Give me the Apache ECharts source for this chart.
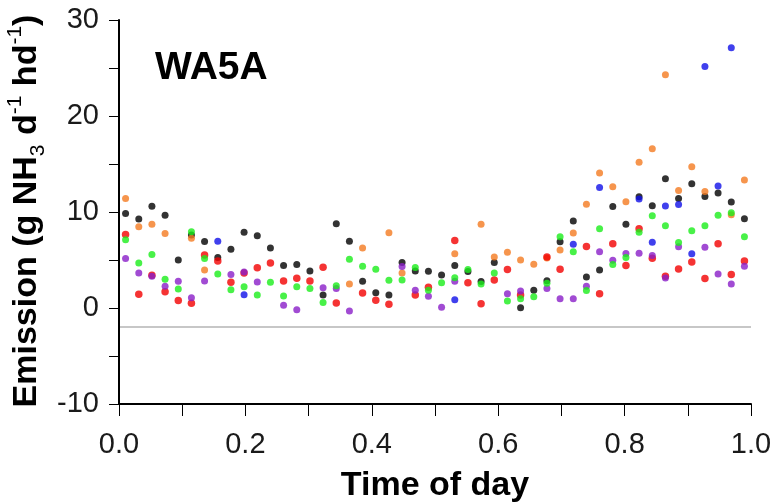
<!DOCTYPE html>
<html>
<head>
<meta charset="utf-8">
<style>
  html, body { margin: 0; padding: 0; background: #fff; }
  #chart { width: 773px; height: 504px; }
</style>
<script src="https://cdn.jsdelivr.net/npm/echarts@6/dist/echarts.min.js"></script>
</head>
<body>
<div id="chart"></div>
<script>
// Half-hour slot midpoints (fraction of day)
const slotTimes = [
  0.0104, 0.0313, 0.0521, 0.0729, 0.0938, 0.1146, 0.1354, 0.1563, 0.1771, 0.1979, 0.2188, 0.2396,
  0.2604, 0.2813, 0.3021, 0.3229, 0.3438, 0.3646, 0.3854, 0.4063, 0.4271, 0.4479, 0.4688, 0.4896,
  0.5104, 0.5313, 0.5521, 0.5729, 0.5938, 0.6146, 0.6354, 0.6563, 0.6771, 0.6979, 0.7188, 0.7396,
  0.7604, 0.7813, 0.8021, 0.8229, 0.8438, 0.8646, 0.8854, 0.9063, 0.9271, 0.9479, 0.9688, 0.9896
];

// Emission per slot for each measurement day (null = no value)
const dayBlack = [
  9.85, 9.26, 10.6, 9.67, 5.0, 7.6, 6.92, 5.25, 6.12, 7.9, 7.52, 6.26,
  4.42, 4.52, 3.86, 1.36, 8.77, 6.96, 2.78, 1.6, 1.36, 4.73, 3.86, 3.83,
  3.44, 4.42, 3.79, 2.75, 4.73, null, 0.03, 1.85, 2.85, 6.89, 9.05, 3.24,
  3.97, 10.58, 8.73, 11.59, 10.65, 13.47, 11.41, 12.94, 11.62, 11.97, 11.03, 9.29
];
const dayOrange = [
  11.4, 8.46, 8.73, 7.76, null, 7.27, 3.97, null, null, null, null, null,
  null, null, null, null, null, 2.5, 6.26, null, 7.83, 3.65, null, null,
  null, 5.64, null, 8.73, 5.32, 5.81, 5.0, 4.56, 5.2, 6.05, 7.8, 10.82,
  14.06, 12.63, 11.06, 15.17, 16.6, 24.29, 12.25, 14.72, 12.14, null, 9.71, 13.33
];
const dayBlue = [
  null, null, null, null, null, null, null, 6.96, null, 1.39, null, null,
  null, null, null, null, null, null, null, null, null, null, null, null,
  null, 0.87, null, null, null, null, null, null, null, null, 6.65, null,
  12.56, null, null, 11.35, 6.86, 10.62, 10.78, 5.64, 25.16, 12.7, 27.1, null
];
const dayRed = [
  7.65, 1.43, 3.4, 1.7, 0.77, 0.49, 5.53, 4.9, 2.68, 3.65, 4.18, 4.7,
  2.82, 3.1, 2.82, 4.25, 0.52, null, 1.57, 0.8, 0.38, null, 1.36, 2.16,
  null, 7.03, 2.64, 0.45, 2.92, 4.0, 1.36, null, 5.32, 4.04, null, 6.4,
  1.49, 6.68, 4.42, 8.25, 5.19, 3.3, 4.07, 4.8, 3.06, 6.68, 3.48, 4.9
];
const dayPurple = [
  5.15, 3.65, 3.3, 2.26, 2.78, 1.08, 2.82, null, 3.48, 3.76, 2.71, null,
  0.28, -0.17, null, 2.12, 2.02, -0.31, null, null, null, 4.31, 1.85, 1.22,
  0.07, 2.78, null, null, null, 1.49, 1.77, null, 2.02, 0.97, 0.97, 2.26,
  5.85, 4.97, 5.67, 5.71, 5.46, 3.13, 6.37, null, 6.33, 3.55, 2.5, 4.35
];
const dayGreen = [
  7.1, 4.7, 5.57, 3.0, 1.98, 7.93, 5.15, 3.55, 1.91, 2.22, 1.36, 2.68,
  1.25, 2.22, 2.02, 0.56, 2.33, 5.08, 4.35, 4.04, 2.89, 2.92, 4.21, 1.85,
  2.64, 3.16, 4.0, 2.5, 3.65, 0.73, 0.97, 1.18, 2.58, 7.41, 5.85, 1.81,
  8.25, 4.52, 5.25, 7.9, 9.6, 8.56, 6.82, 8.04, 8.56, 9.67, 9.92, 7.41
];

// Axis ranges: tick every step, label every labelStep
const xTicks = { min: 0, max: 1, step: 0.1, labelStep: 0.2 };
const yTicks = { min: -10, max: 30, step: 5, labelStep: 10 };
const baselineValue = -2;

const FONT = "'Liberation Sans', Arial, Helvetica, sans-serif";

function pairs(values) {
  const out = [];
  values.forEach((v, i) => { if (v !== null) out.push([slotTimes[i], v]); });
  return out;
}
function onLabelStep(v, axis) {
  const r = (v - axis.min) / axis.labelStep;
  return Math.abs(r - Math.round(r)) < 1e-6;
}

const seriesDefs = [
  { name: 'black',  data: dayBlack,  color: '#000000', size: 7 },
  { name: 'orange', data: dayOrange, color: '#f47a20', size: 7 },
  { name: 'blue',   data: dayBlue,   color: '#1010e8', size: 7 },
  { name: 'red',    data: dayRed,    color: '#f20000', size: 7.5 },
  { name: 'purple', data: dayPurple, color: '#8a1ec8', size: 7 },
  { name: 'green',  data: dayGreen,  color: '#1aee1a', size: 7 }
];

const series = seriesDefs.map((d, k) => ({
  name: d.name,
  type: 'scatter',
  data: pairs(d.data),
  symbol: 'circle',
  symbolSize: d.size,
  itemStyle: { color: d.color },
  emphasis: { disabled: true },
  z: 3 + k
}));

// Grey reference line below zero, plus solid left/bottom frame lines
series[0].clip = false;
series[0].markLine = {
  silent: true,
  symbol: 'none',
  label: { show: false },
  data: [
    { yAxis: baselineValue, lineStyle: { color: '#b4b4b4', width: 1.5, type: 'solid' } },
    { yAxis: yTicks.min, lineStyle: { color: '#000', width: 2, type: 'solid' } },
    { xAxis: xTicks.min, lineStyle: { color: '#000', width: 2, type: 'solid' } }
  ]
};

const chart = echarts.init(document.getElementById('chart'), null, { renderer: 'canvas' });
chart.setOption({
  animation: false,
  grid: { left: 119, right: 22, top: 20, bottom: 100, outerBoundsMode: 'none' },
  xAxis: {
    type: 'value',
    min: xTicks.min, max: xTicks.max, interval: xTicks.step,
    axisLine: { show: true, onZero: false, lineStyle: { color: '#000', width: 2 } },
    axisTick: { show: true, length: 12 },
    splitLine: { show: true, lineStyle: { color: 'rgba(0,0,0,0)' } },
    axisLabel: {
      fontFamily: FONT, fontSize: 29, color: '#1a1a1a', margin: 26,
      formatter: v => onLabelStep(v, xTicks) ? v.toFixed(1) : ''
    }
  },
  yAxis: {
    type: 'value',
    min: yTicks.min, max: yTicks.max, interval: yTicks.step,
    axisLine: { show: true, lineStyle: { color: '#000', width: 2 } },
    axisTick: { show: true, length: 10 },
    splitLine: { show: true, lineStyle: { color: 'rgba(0,0,0,0)' } },
    axisLabel: {
      fontFamily: FONT, fontSize: 29, color: '#1a1a1a', margin: 20,
      formatter: v => onLabelStep(v, yTicks) ? String(v) : ''
    }
  },
  graphic: [
    {
      type: 'text',
      left: 155,
      top: 49,
      style: { text: 'WA5A', font: 'bold 39px ' + FONT, fill: '#000' },
      silent: true
    },
    {
      // x-axis title
      type: 'text',
      x: 435,
      y: 486,
      style: {
        text: 'Time of day', font: 'bold 34px ' + FONT, fill: '#000',
        align: 'center', verticalAlign: 'middle'
      },
      silent: true
    },
    {
      // y-axis title, rotated to read bottom-to-top
      type: 'text',
      x: 27,
      y: 211,
      rotation: Math.PI / 2,
      style: {
        text: '{b|Emission (g NH}{sub|3}{b| d}{sup|-1}{b| hd}{sup|-1}{b|)}',
        align: 'center', verticalAlign: 'middle',
        rich: {
          b:   { fontFamily: FONT, fontSize: 34, fontWeight: 'bold', fill: '#000', lineHeight: 44 },
          sub: { fontFamily: FONT, fontSize: 21, fontWeight: 'normal', fill: '#000', lineHeight: 27, verticalAlign: 'bottom' },
          sup: { fontFamily: FONT, fontSize: 21, fontWeight: 'normal', fill: '#000', lineHeight: 30, verticalAlign: 'top' }
        }
      },
      silent: true
    }
  ],
  series: series
});
</script>
</body>
</html>
